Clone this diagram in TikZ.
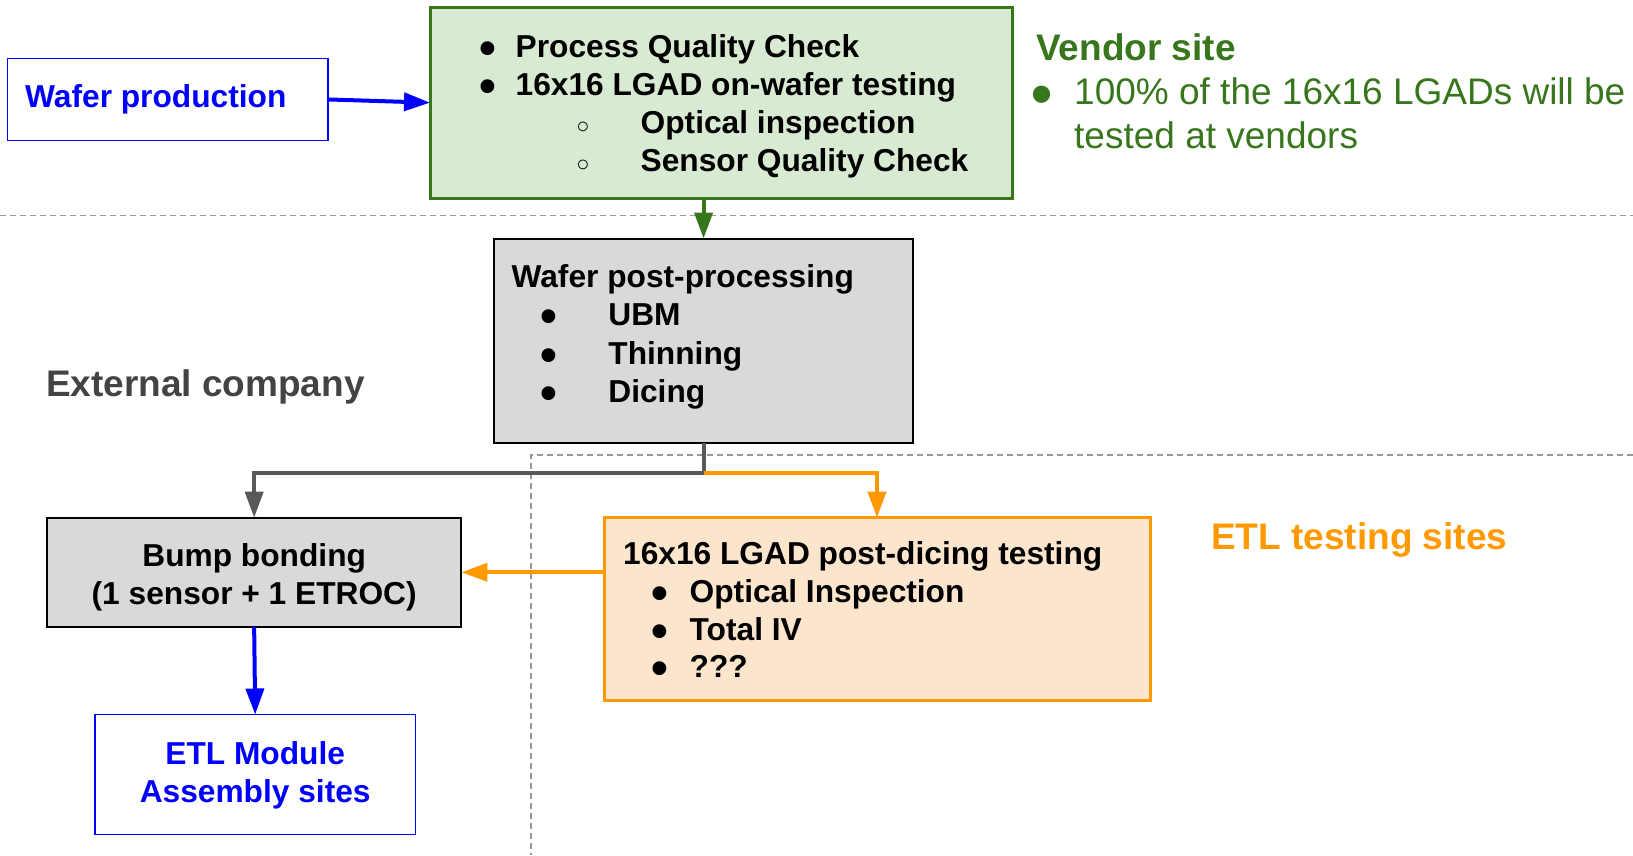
\documentclass[tikz,border=0pt]{standalone}
\usepackage{fontspec}
\setmainfont{Liberation Sans}
\usetikzlibrary{arrows.meta}
\definecolor{vgreen}{HTML}{38761D}
\definecolor{lgreen}{HTML}{D9EAD3}
\definecolor{lgray}{HTML}{D9D9D9}
\definecolor{dgray}{HTML}{595959}
\definecolor{tgray}{HTML}{434343}
\definecolor{orng}{HTML}{FF9900}
\definecolor{lorng}{HTML}{FCE5CD}
\definecolor{sepgray}{HTML}{999999}
\definecolor{pblue}{HTML}{0000FF}
\newcommand{\bigbul}{\smash{\raisebox{-7pt}{\fontsize{48}{48}\selectfont •}}}
\newcommand{\hugebul}{\smash{\raisebox{-10pt}{\fontsize{60}{60}\selectfont •}}}
\newcommand{\circbul}{\smash{\fontsize{22}{22}\selectfont\mdseries ○}}
\begin{document}
\begin{tikzpicture}[x=1pt,y=-1pt,
  box/.style={draw, rectangle, inner sep=0pt, outer sep=0pt, anchor=north west},
  txt/.style={anchor=base west, inner sep=0pt, font=\fontsize{31.7}{38}\selectfont\bfseries},
  bul/.style={anchor=base, inner sep=0pt, font=\fontsize{31.7}{38}\selectfont\bfseries},
  ctxt/.style={anchor=base, inner sep=0pt, font=\fontsize{31.7}{38}\selectfont\bfseries},
  lbl/.style={anchor=base west, inner sep=0pt, font=\fontsize{37}{44}\selectfont\bfseries},
  lreg/.style={anchor=base west, inner sep=0pt, font=\fontsize{37}{44}\selectfont},
  arr/.style={line width=4pt, -{Triangle[length=26pt,width=18pt]}},
  sep/.style={sepgray, line width=1.5pt, dash pattern=on 6pt off 4pt}]
\useasboundingbox (0,0) rectangle (1633,855);
% separators
\draw[sep] (0,215.6) -- (1633,215.6);
\draw[sep] (1633,455) -| (531,855);
% boxes
\node[box, pblue, line width=1.5pt, minimum width=320.7pt, minimum height=82.3pt] (wafer) at (7.3,58.3) {};
\node[box, vgreen, fill=lgreen, line width=3pt, minimum width=582pt, minimum height=190.7pt] (vendor) at (430,7.3) {};
\node[box, black, fill=lgray, line width=2pt, minimum width=419.7pt, minimum height=204.1pt] (post) at (493.7,238.5) {};
\node[box, black, fill=lgray, line width=2pt, minimum width=414.5pt, minimum height=109.4pt] (bump) at (46.9,517.6) {};
\node[box, orng, fill=lorng, line width=3pt, minimum width=546pt, minimum height=182.4pt] (test) at (604,517.6) {};
\node[box, pblue, line width=1.5pt, minimum width=320.8pt, minimum height=119.8pt] (etl) at (94.8,714.5) {};
% texts
\node[txt, pblue] (t1) at (25,107) {Wafer production};
\node[bul] (g1b) at (487.5,57) {\bigbul};
\node[txt] (g1) at (515.5,57) {Process Quality Check};
\node[bul] (g2b) at (487.5,95.5) {\bigbul};
\node[txt] (g2) at (515.5,95.5) {16x16 LGAD on-wafer testing};
\node[bul] (g3b) at (583,133) {\circbul};
\node[txt] (g3) at (640.5,133) {Optical inspection};
\node[bul] (g4b) at (583,171.5) {\circbul};
\node[txt] (g4) at (640.5,171.5) {Sensor Quality Check};
\node[lbl, vgreen] (vs) at (1036,60) {Vendor site};
\node[bul, vgreen] (vsb) at (1042,104) {\hugebul};
\node[lreg, vgreen] (vs1) at (1074,104) {100\% of the 16x16 LGADs will be};
\node[lreg, vgreen] (vs2) at (1074,148) {tested at vendors};
\node[txt] (p0) at (511.4,287) {Wafer post-processing};
\node[bul] (p1b) at (549,325.7) {\bigbul};
\node[txt] (p1) at (608.2,325.7) {UBM};
\node[bul] (p2b) at (549,364.2) {\bigbul};
\node[txt] (p2) at (608.2,364.2) {Thinning};
\node[bul] (p3b) at (549,402.7) {\bigbul};
\node[txt] (p3) at (608.2,402.7) {Dicing};
\node[lbl, tgray] (ext) at (45.8,396.5) {External company};
\node[ctxt] (b1) at (254.2,566.2) {Bump bonding};
\node[ctxt] (b2) at (254.2,604.7) {(1 sensor + 1 ETROC)};
\node[txt] (o0) at (623,564.2) {16x16 LGAD post-dicing testing};
\node[bul] (o1b) at (660,602.7) {\bigbul};
\node[txt] (o1) at (689.5,602.7) {Optical Inspection};
\node[bul] (o2b) at (660,640.2) {\bigbul};
\node[txt] (o2) at (689.5,640.2) {Total IV};
\node[bul] (o3b) at (660,677.7) {\bigbul};
\node[txt] (o3) at (689.5,677.7) {???};
\node[lbl, orng] (ets) at (1211,549.6) {ETL testing sites};
\node[ctxt, pblue] (e1) at (255.2,764.1) {ETL Module};
\node[ctxt, pblue] (e2) at (255.2,802.7) {Assembly sites};
% connectors
\draw[arr, pblue] (wafer.east) -- (vendor.west);
\draw[arr, vgreen] (vendor.south -| post.north) -- (post.north);
\coordinate (split) at ([yshift=-30.2pt]post.south);
\draw[dgray, line width=4pt] (post.south) -- (split);
\draw[arr, dgray] (split) -| (bump.north);
\draw[arr, orng] (split) -| (test.north);
\draw[arr, orng] (test.west |- bump.east) -- (bump.east);
\draw[arr, pblue] (bump.south) -- (etl.north);
\end{tikzpicture}
\end{document}
